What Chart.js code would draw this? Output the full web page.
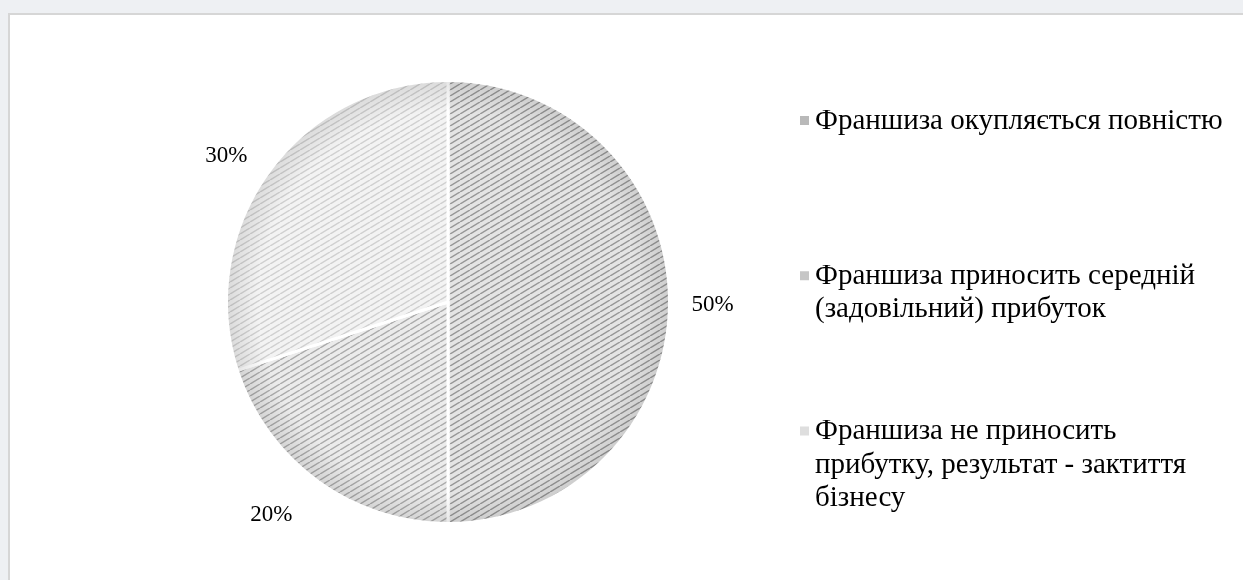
<!DOCTYPE html>
<html>
<head>
<meta charset="utf-8">
<script src="https://cdn.jsdelivr.net/npm/chart.js@4"></script>
<style>
  html, body { margin: 0; width: 1243px; height: 580px; overflow: hidden; background: #eef0f3; }
  #frame {
    position: absolute; left: 8px; top: 13px; width: 1300px; height: 700px;
    background: #fff; border-left: 2px solid #d6d6d6; border-top: 2px solid #d6d6d6;
  }
  #pie { position: absolute; left: 0; top: 0; }
</style>
</head>
<body>
<div id="frame"></div>
<canvas id="pie" width="1243" height="580"></canvas>
<script>
// legend lines for each slice
const categories = [
  ["Франшиза окупляється повністю"],
  ["Франшиза приносить середній", "(задовільний) прибуток"],
  ["Франшиза не приносить", "прибутку, результат - зактиття", "бізнесу"]
];
const shares = [50, 20, 30];
const shareLabels = shares.map(v => v + "%");

// hatched fills: light ground with diagonal strokes
function stripes(bg, fg) {
  const t = document.createElement("canvas");
  t.width = 10; t.height = 6;
  const c = t.getContext("2d");
  c.fillStyle = bg;
  c.fillRect(0, 0, 10, 6);
  c.strokeStyle = fg;
  c.lineWidth = 1.5;
  c.beginPath();
  for (const ox of [-10, 0, 10]) { c.moveTo(ox, 6); c.lineTo(ox + 10, 0); }
  c.stroke();
  return c.createPattern(t, "repeat");
}
const fills = [
  stripes("#e4e4e4", "#979797"),
  stripes("#ebebeb", "#acacac"),
  stripes("#f3f3f3", "#d0d0d0")
];
const swatches = ["#b9b9b9", "#c6c6c6", "#dedede"];

// soft darker rim along the outside edge of the pie
const rimShade = {
  id: "rimShade",
  afterDatasetsDraw(chart) {
    const arc = chart.getDatasetMeta(0).data[0];
    if (!arc) return;
    const { x, y, outerRadius } = arc;
    const ctx = chart.ctx;
    const g = ctx.createRadialGradient(x, y, outerRadius * 0.86, x, y, outerRadius);
    g.addColorStop(0, "rgba(0,0,0,0)");
    g.addColorStop(1, "rgba(0,0,0,0.10)");
    ctx.save();
    ctx.beginPath();
    ctx.arc(x, y, outerRadius - 1.5, 0, Math.PI * 2);
    ctx.fillStyle = g;
    ctx.fill();
    ctx.restore();
  }
};

// percentage labels outside each slice
const outsideLabels = {
  id: "outsideLabels",
  afterDatasetsDraw(chart, args, opts) {
    const ctx = chart.ctx;
    const meta = chart.getDatasetMeta(0);
    ctx.save();
    ctx.font = opts.font;
    ctx.fillStyle = "#000";
    ctx.textAlign = "center";
    ctx.textBaseline = "middle";
    meta.data.forEach((arc, i) => {
      const mid = (arc.startAngle + arc.endAngle) / 2;
      const r = arc.outerRadius + opts.gap;
      const nudge = opts.nudge[i] || [0, 0];
      ctx.fillText(shareLabels[i], arc.x + Math.cos(mid) * r + nudge[0], arc.y + Math.sin(mid) * r + nudge[1]);
    });
    ctx.restore();
  }
};

// legend on the right with wrapped entries, spaced by their centres
const sideLegend = {
  id: "sideLegend",
  afterDraw(chart, args, opts) {
    const ctx = chart.ctx;
    ctx.save();
    ctx.font = opts.font;
    ctx.textBaseline = "middle";
    categories.forEach((lines, i) => {
      const centre = opts.top + i * opts.step;
      const first = centre - (lines.length - 1) * opts.lineHeight / 2;
      ctx.fillStyle = swatches[i];
      ctx.fillRect(opts.x, first - 5, 9, 9);
      ctx.fillStyle = "#000";
      lines.forEach((t, k) => ctx.fillText(t, opts.x + 15, first + k * opts.lineHeight));
    });
    ctx.restore();
  }
};

new Chart(document.getElementById("pie").getContext("2d"), {
  type: "pie",
  data: {
    labels: categories.map(l => l.join(" ")),
    datasets: [{
      data: shares,
      backgroundColor: fills,
      borderColor: "#ffffff",
      borderWidth: 3
    }]
  },
  options: {
    responsive: false,
    animation: false,
    layout: { padding: { left: 225, top: 79, right: 572, bottom: 55 } },
    plugins: {
      legend: { display: false },
      tooltip: { enabled: false },
      outsideLabels: {
        font: "23px 'Liberation Serif'",
        gap: 45,
        nudge: [[-2, 3], [-20, -3], [-6, 11]]
      },
      sideLegend: {
        font: "29px 'Liberation Serif'",
        x: 800, top: 121, step: 172, lineHeight: 33.5
      }
    }
  },
  plugins: [rimShade, outsideLabels, sideLegend]
});
</script>
</body>
</html>
